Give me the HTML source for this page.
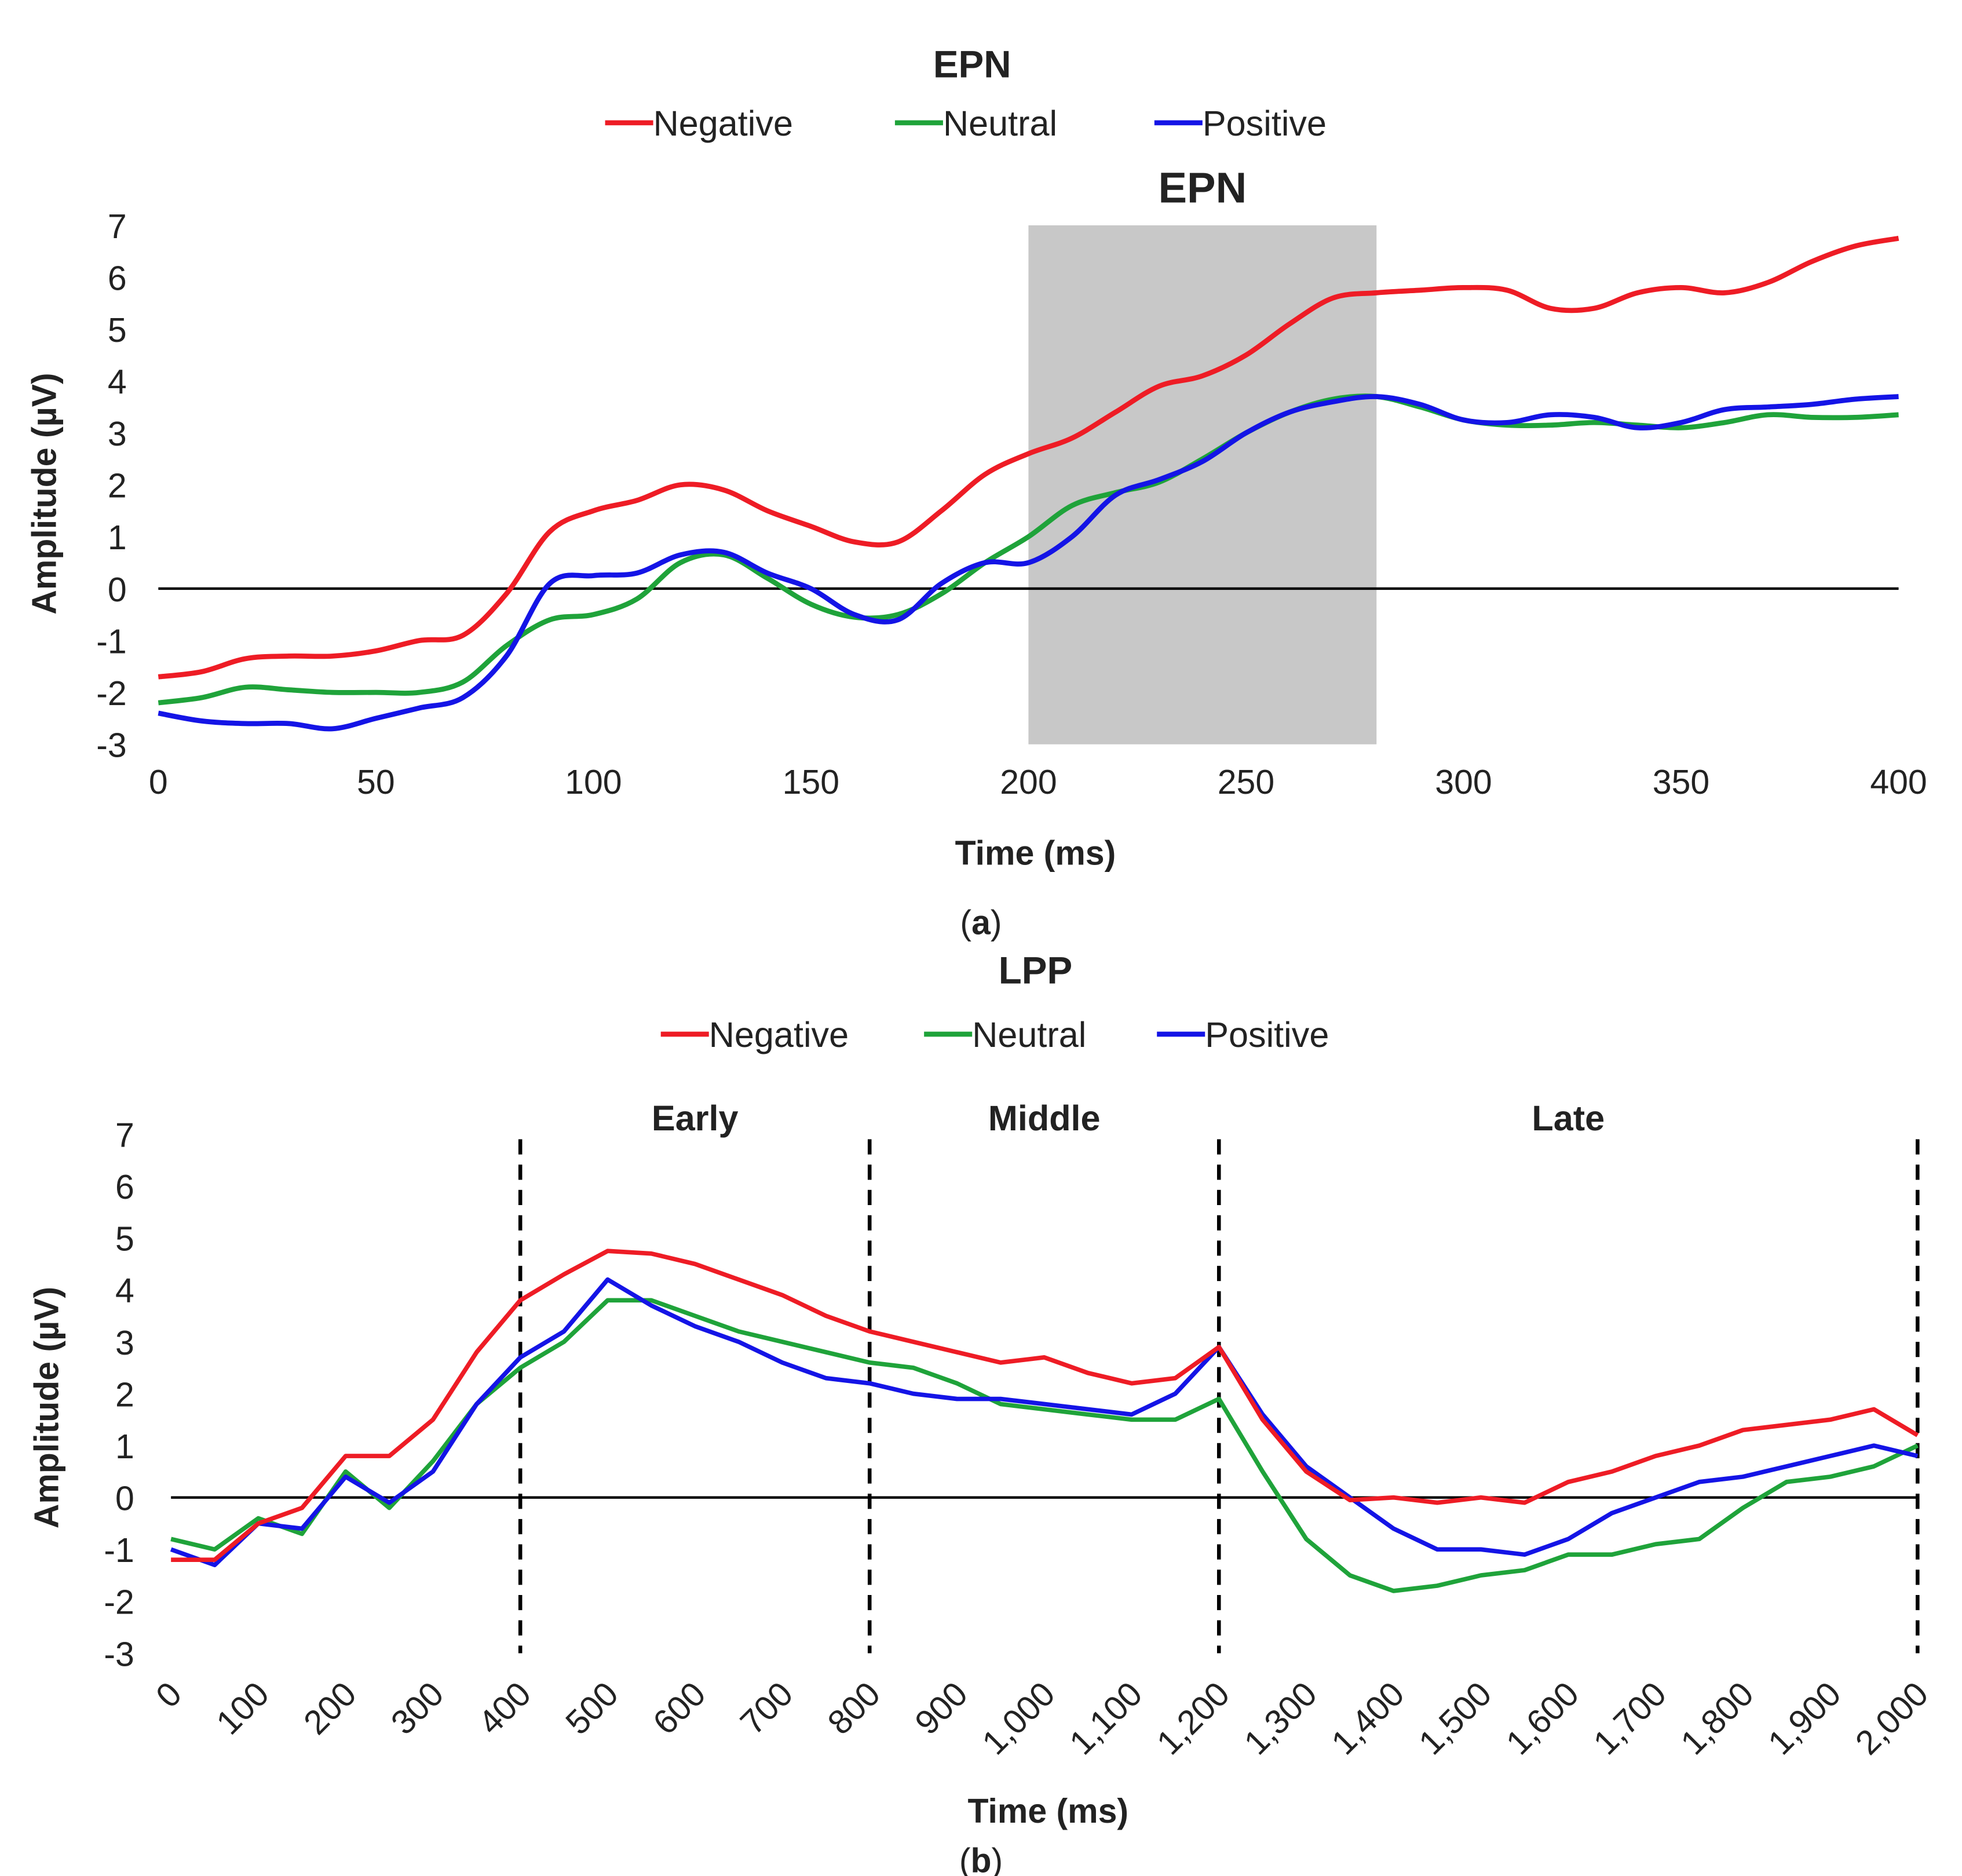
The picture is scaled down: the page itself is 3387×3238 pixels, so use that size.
<!DOCTYPE html>
<html><head><meta charset="utf-8"><style>
html,body{margin:0;padding:0;background:#fff;}
svg{display:block;}
text{font-family:"Liberation Sans",Arial,sans-serif;fill:#222;}
</style></head><body>
<svg id="fig" width="3387" height="3238" viewBox="0 0 1550 1482" xmlns="http://www.w3.org/2000/svg">
<g id="ga"></g>
<g id="gb"></g>
</svg>
<script>
const epnTimes=[0,10,20,30,40,50,60,70,80,90,100,110,120,130,140,150,160,170,180,190,200,210,220,230,240,250,260,270,280,290,300,310,320,330,340,350,360,370,380,390,400];
const epnNegative=[-1.7,-1.6,-1.35,-1.3,-1.3,-1.2,-1.0,-0.9,-0.1,1.1,1.5,1.7,2.0,1.9,1.5,1.2,0.9,0.9,1.5,2.2,2.6,2.9,3.4,3.9,4.1,4.5,5.1,5.6,5.7,5.75,5.8,5.75,5.4,5.4,5.7,5.8,5.7,5.9,6.3,6.6,6.75];
const epnNeutral=[-2.2,-2.1,-1.9,-1.95,-2.0,-2.0,-2.0,-1.8,-1.1,-0.6,-0.5,-0.2,0.5,0.65,0.2,-0.3,-0.55,-0.5,-0.1,0.5,1.0,1.6,1.85,2.05,2.5,3.0,3.4,3.65,3.7,3.5,3.25,3.15,3.15,3.2,3.15,3.1,3.2,3.35,3.3,3.3,3.35];
const epnPositive=[-2.4,-2.55,-2.6,-2.6,-2.7,-2.5,-2.3,-2.1,-1.3,0.1,0.25,0.3,0.65,0.7,0.3,0.0,-0.5,-0.6,0.1,0.5,0.5,1.0,1.8,2.1,2.45,3.0,3.4,3.6,3.7,3.55,3.25,3.2,3.35,3.3,3.1,3.2,3.45,3.5,3.55,3.65,3.7];
const epnXTicks=[0,50,100,150,200,250,300,350,400];
const yTicks=[7,6,5,4,3,2,1,0,-1,-2,-3];
const epnWindow=[200,280];

const lppTimes=[0,50,100,150,200,250,300,350,400,450,500,550,600,650,700,750,800,850,900,950,1000,1050,1100,1150,1200,1250,1300,1350,1400,1450,1500,1550,1600,1650,1700,1750,1800,1850,1900,1950,2000];
const lppNegative=[-1.2,-1.2,-0.5,-0.2,0.8,0.8,1.5,2.8,3.8,4.3,4.75,4.7,4.5,4.2,3.9,3.5,3.2,3.0,2.8,2.6,2.7,2.4,2.2,2.3,2.9,1.5,0.5,-0.05,0.0,-0.1,0.0,-0.1,0.3,0.5,0.8,1.0,1.3,1.4,1.5,1.7,1.2];
const lppNeutral=[-0.8,-1.0,-0.4,-0.7,0.5,-0.2,0.7,1.8,2.5,3.0,3.8,3.8,3.5,3.2,3.0,2.8,2.6,2.5,2.2,1.8,1.7,1.6,1.5,1.5,1.9,0.5,-0.8,-1.5,-1.8,-1.7,-1.5,-1.4,-1.1,-1.1,-0.9,-0.8,-0.2,0.3,0.4,0.6,1.0];
const lppPositive=[-1.0,-1.3,-0.5,-0.6,0.4,-0.1,0.5,1.8,2.7,3.2,4.2,3.7,3.3,3.0,2.6,2.3,2.2,2.0,1.9,1.9,1.8,1.7,1.6,2.0,2.9,1.6,0.6,0.0,-0.6,-1.0,-1.0,-1.1,-0.8,-0.3,0.0,0.3,0.4,0.6,0.8,1.0,0.8];
const lppXTicks=[0,100,200,300,400,500,600,700,800,900,1000,1100,1200,1300,1400,1500,1600,1700,1800,1900,2000];
const lppBounds=[400,800,1200,2000];
const lppPhases=["Early","Middle","Late"];

const NS="http://www.w3.org/2000/svg";
function mk(parent,tag,attrs,txt){const e=document.createElementNS(NS,tag);for(const k in attrs)e.setAttribute(k,attrs[k]);if(txt!==undefined)e.textContent=txt;parent.appendChild(e);return e;}
const colors={neg:"#ee1c25",neu:"#1fa33a",pos:"#1414e6"};
function smoothPath(pts){let d="M"+pts[0][0]+","+pts[0][1];for(let i=0;i<pts.length-1;i++){const p0=pts[Math.max(0,i-1)],p1=pts[i],p2=pts[i+1],p3=pts[Math.min(pts.length-1,i+2)];const c1=[p1[0]+(p2[0]-p0[0])/6,p1[1]+(p2[1]-p0[1])/6],c2=[p2[0]-(p3[0]-p1[0])/6,p2[1]-(p3[1]-p1[1])/6];d+=" C"+c1+" "+c2+" "+p2;}return d;}
function linePath(pts){return "M"+pts.map(p=>p.join(",")).join(" L");}

function legend(g,y,xs,labels){
  const keys=["neg","neu","pos"];
  keys.forEach((k,i)=>{
    const it=mk(g,"g",{});
    
    
    mk(it,"line",{x1:xs[i],x2:xs[i]+38,y1:y,y2:y,stroke:colors[k],"stroke-width":4});
    mk(it,"text",{x:xs[i]+38,y:y+10,"font-size":28},labels[i]);
  });
}

// Chart A
(function(){
  const g=document.getElementById("ga");
  const X=t=>125+(t-0)/400*(1500-125);
  const Y=v=>465-v*41;
  const t1=mk(g,"text",{x:768,y:61,"font-size":30,"font-weight":"bold","text-anchor":"middle"},"EPN");
   
  const lg=mk(g,"g",{});  
  legend(lg,97,[478,707,912],["Negative","Neutral","Positive"]);
  const r=mk(g,"rect",{x:X(epnWindow[0]),y:Y(7),width:X(epnWindow[1])-X(epnWindow[0]),height:Y(-3)-Y(7),fill:"#c8c8c8"});
   
  const wl=mk(g,"text",{x:(X(epnWindow[0])+X(epnWindow[1]))/2,y:160,"font-size":34,"font-weight":"bold","text-anchor":"middle"},"EPN");
   
  const zl=mk(g,"line",{x1:X(0),x2:X(400),y1:Y(0),y2:Y(0),stroke:"#000","stroke-width":2});
   
  yTicks.forEach(v=>{const t=mk(g,"text",{x:100,y:Y(v)+10,"font-size":27,"text-anchor":"end"},String(v));});
  epnXTicks.forEach(v=>{const t=mk(g,"text",{x:X(v),y:627,"font-size":27,"text-anchor":"middle"},String(v));});
  const yt=mk(g,"text",{x:0,y:0,"font-size":27,"font-weight":"bold","text-anchor":"middle",transform:"translate(44,390) rotate(-90)"},"Amplitude (µV)");
   
  const xt=mk(g,"text",{x:818,y:683,"font-size":27,"font-weight":"bold","text-anchor":"middle"},"Time (ms)");
   
  [["neg",epnNegative,"negative"],["neu",epnNeutral,"neutral"],["pos",epnPositive,"positive"]].forEach(([k,arr,n])=>{
    const p=mk(g,"path",{d:smoothPath(arr.map((v,i)=>[X(epnTimes[i]),Y(v)])),fill:"none",stroke:colors[k],"stroke-width":4});
     
  });
  const cap=mk(g,"text",{x:775,y:738,"font-size":27,"text-anchor":"middle","font-family":"Liberation Serif, serif"});
   
  cap.innerHTML='(<tspan font-weight="bold">a</tspan>)';
})();

// Chart B
(function(){
  const g=document.getElementById("gb");
  const X=t=>135+t/2000*(1515-135);
  const Y=v=>1183-v*41;
  const t1=mk(g,"text",{x:818,y:777,"font-size":30,"font-weight":"bold","text-anchor":"middle"},"LPP");
   
  const lg=mk(g,"g",{});  
  legend(lg,817,[522,730,914],["Negative","Neutral","Positive"]);
  const zl=mk(g,"line",{x1:X(0),x2:X(2000),y1:Y(0),y2:Y(0),stroke:"#000","stroke-width":2});
   
  lppBounds.forEach(b=>{const l=mk(g,"line",{x1:X(b),x2:X(b),y1:900,y2:Y(-3),stroke:"#000","stroke-width":3,"stroke-dasharray":"12,8"});});
  lppPhases.forEach((p,i)=>{const t=mk(g,"text",{x:(X(lppBounds[i])+X(lppBounds[i+1]))/2,y:893,"font-size":28,"font-weight":"bold","text-anchor":"middle"},p);});
  yTicks.forEach(v=>{const t=mk(g,"text",{x:106,y:Y(v)+10,"font-size":27,"text-anchor":"end"},String(v));});
  lppXTicks.forEach(v=>{const s=v>=1000?Math.floor(v/1000)+","+String(v%1000).padStart(3,"0"):String(v);const t=mk(g,"text",{x:0,y:0,"font-size":27,"text-anchor":"end",transform:"translate("+(X(v)+10)+",1340) rotate(-45)"},s);});
  const yt=mk(g,"text",{x:0,y:0,"font-size":27,"font-weight":"bold","text-anchor":"middle",transform:"translate(46,1112) rotate(-90)"},"Amplitude (µV)");
   
  const xt=mk(g,"text",{x:828,y:1440,"font-size":27,"font-weight":"bold","text-anchor":"middle"},"Time (ms)");
   
  [["neu",lppNeutral,"neutral"],["pos",lppPositive,"positive"],["neg",lppNegative,"negative"]].forEach(([k,arr,n])=>{
    const p=mk(g,"path",{d:linePath(arr.map((v,i)=>[X(lppTimes[i]),Y(v)])),fill:"none",stroke:colors[k],"stroke-width":3.5,"stroke-linejoin":"round"});
     
  });
  const cap=mk(g,"text",{x:775,y:1479,"font-size":27,"text-anchor":"middle","font-family":"Liberation Serif, serif"});
   
  cap.innerHTML='(<tspan font-weight="bold">b</tspan>)';
})();
</script>
</body></html>
